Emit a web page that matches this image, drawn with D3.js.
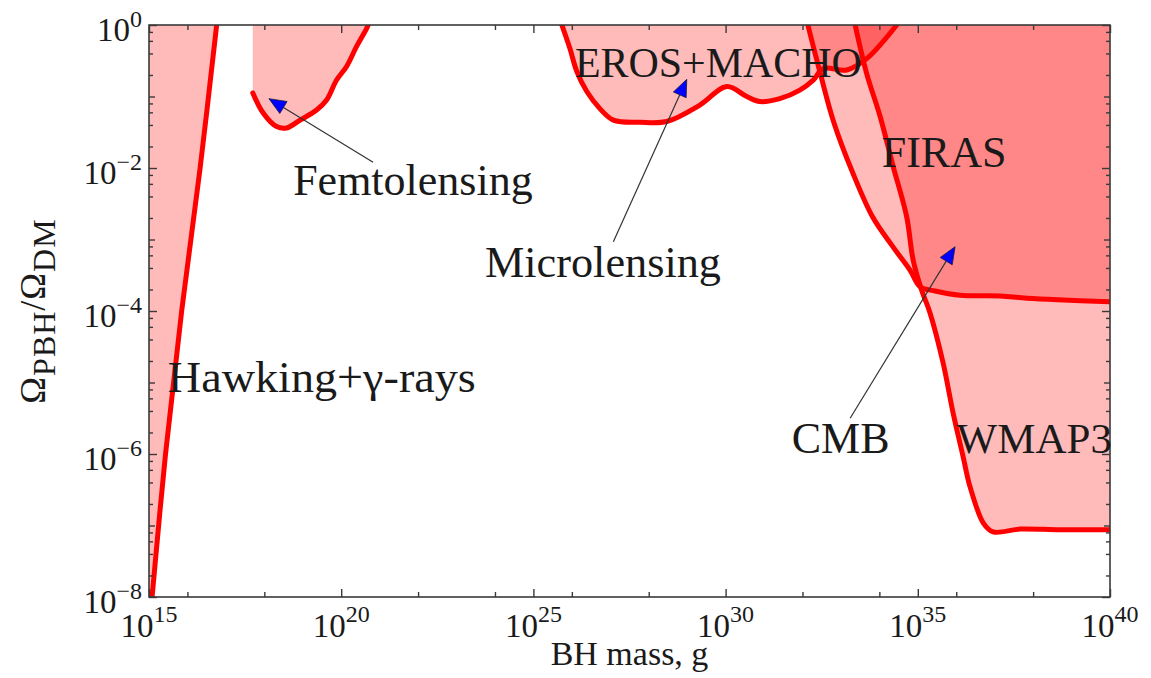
<!DOCTYPE html>
<html>
<head>
<meta charset="utf-8">
<script src="https://cdn.jsdelivr.net/npm/d3@7"></script>
<style>
  body { margin: 0; background: #fff; }
  svg { display: block; }
</style>
</head>
<body>
<svg id="chart" width="1151" height="678"></svg>
<script>
// Constraint boundaries, as [log10(M / g), log10(Ω_PBH / Ω_DM)]
const hawkingGammaRays = [[15.08,-8],[15.43,-6],[15.85,-4],[16.33,-2],[16.76,0]];
const femtolensing = [[17.70,-0.95],[17.97,-1.23],[18.32,-1.42],[18.58,-1.44],[18.93,-1.33],
  [19.36,-1.19],[19.62,-1.05],[19.88,-0.77],[20.14,-0.58],[20.40,-0.30],[20.66,-0.05],[20.70,0]];
const erosMacho = [[25.74,0],[25.95,-0.33],[26.13,-0.65],[26.39,-0.93],[26.73,-1.17],[27.08,-1.33],
  [27.77,-1.36],[28.47,-1.35],[29.33,-1.12],[30.03,-0.86],[30.55,-1.00],[30.89,-1.07],[31.41,-1.03],
  [31.93,-0.91],[32.28,-0.77],[32.54,-0.61],[33.15,-0.63],[33.67,-0.47],[34.10,-0.23],[34.45,0]];
const firas = [[32.14,0],[32.46,-0.67],[32.82,-1.37],[33.31,-2.07],[33.83,-2.69],[34.35,-3.10],
  [34.80,-3.43],[35.06,-3.66],[35.45,-3.72],[36.10,-3.78],[37.14,-3.79],[37.84,-3.82],[40,-3.87]];
const wmap3 = [[33.37,0],[33.67,-0.68],[34.02,-1.28],[34.36,-1.98],[34.71,-2.68],[34.88,-3.29],
  [35.10,-3.71],[35.32,-4.03],[35.66,-4.73],[35.92,-5.43],[36.18,-6.04],[36.36,-6.46],[36.71,-6.97],
  [36.96,-7.09],[37.66,-7.05],[38.70,-7.06],[40,-7.06]];

// Axis ticks (exponents of 10)
const xMajorExp = [15, 20, 25, 30, 35, 40];
const xMinorExp = [16, 18, 22, 24, 26, 28, 32, 34, 36, 38];
const yMajorExp = [0, -2, -4, -6, -8];
const yDecadeExp = [-1, -3, -5, -7];
const yMultipliers = [2, 4, 6, 8];

// Region names and the arrows pointing into them
const regionLabels = [
  { text: "Hawking+γ-rays", at: [15.49, -5.13], size: 44, width: 308 },
  { text: "Femtolensing",   at: [18.75, -2.38], size: 44 },
  { text: "Microlensing",   at: [23.74, -3.52], size: 44, width: 236 },
  { text: "EROS+MACHO",     at: [26.08, -0.73], size: 42.5, width: 287 },
  { text: "FIRAS",          at: [34.06, -1.99], size: 44 },
  { text: "CMB",            at: [31.72, -5.99], size: 44 },
  { text: "WMAP3",          at: [36.01, -5.99], size: 43 }
];
const arrows = [
  { from: [20.83, -1.92], to: [18.12, -1.03] },
  { from: [27.08, -3.03], to: [28.99, -0.76] },
  { from: [33.24, -5.50], to: [35.97, -3.10] }
];

const FONT = "'Liberation Serif', 'DejaVu Serif', serif";
const INK = "#1a1a1a";

const svg = d3.select("#chart");
const plotLeft = 149, plotRight = 1110, plotTop = 25, plotBottom = 597;

const x = d3.scaleLog().domain([1e15, 1e40]).range([plotLeft, plotRight]);
const y = d3.scaleLog().domain([1e-8, 1]).range([plotBottom, plotTop]);
const px = e => x(Math.pow(10, e));
const py = e => y(Math.pow(10, e));

svg.append("defs").append("clipPath").attr("id", "plotClip")
  .append("rect").attr("x", plotLeft).attr("y", plotTop)
  .attr("width", plotRight - plotLeft).attr("height", plotBottom - plotTop);

const plot = svg.append("g").attr("clip-path", "url(#plotClip)");

const line = d3.line().x(d => px(d[0])).y(d => py(d[1])).curve(d3.curveCatmullRom.alpha(0.5));

// Excluded regions: boundary curve closed along the frame
const regions = [
  { pts: hawkingGammaRays, close: [[15, 0], [15, -8]] },
  { pts: femtolensing,     close: [[17.70, 0]] },
  { pts: erosMacho,        close: [] },
  { pts: firas,            close: [[40, 0]] },
  { pts: wmap3,            close: [[40, 0]] }
];

plot.selectAll("path.fill").data(regions).join("path")
  .attr("class", "fill")
  .attr("d", r => line(r.pts) + r.close.map(c => `L${px(c[0])},${py(c[1])}`).join("") + "Z")
  .attr("fill", "#ff0000")
  .attr("fill-opacity", 0.27)
  .attr("stroke", "none");

plot.selectAll("path.edge").data(regions).join("path")
  .attr("class", "edge")
  .attr("d", r => line(r.pts))
  .attr("fill", "none")
  .attr("stroke", "#ff0000")
  .attr("stroke-width", 5)
  .attr("stroke-linejoin", "round")
  .attr("stroke-linecap", "round");

// Frame and ticks
const axisColor = "#3a3a3a";
function styleAxis(g) {
  g.select(".domain").remove();
  g.selectAll(".tick line").attr("stroke", axisColor).attr("stroke-width", 1.4);
  g.selectAll(".tick text").remove();
}
const xMajor = xMajorExp.map(e => Math.pow(10, e));
const xMinor = xMinorExp.map(e => Math.pow(10, e));
const yMajor = yMajorExp.map(e => Math.pow(10, e));
const yDecade = yDecadeExp.map(e => Math.pow(10, e));
const yMinor = [];
[0, -1, -2, -3, -4, -5, -6, -7].forEach(e => {
  yMultipliers.forEach(m => { const v = m * Math.pow(10, e - 1); if (v <= 1) yMinor.push(v); });
});

[[d3.axisBottom, plotBottom], [d3.axisTop, plotTop]].forEach(([ax, pos]) => {
  svg.append("g").attr("transform", `translate(0,${pos})`)
    .call(ax(x).tickValues(xMajor).tickSize(-8)).call(styleAxis);
  svg.append("g").attr("transform", `translate(0,${pos})`)
    .call(ax(x).tickValues(xMinor).tickSize(-5)).call(styleAxis);
});
[[d3.axisLeft, plotLeft], [d3.axisRight, plotRight]].forEach(([ax, pos]) => {
  svg.append("g").attr("transform", `translate(${pos},0)`)
    .call(ax(y).tickValues(yMajor).tickSize(-8)).call(styleAxis);
  svg.append("g").attr("transform", `translate(${pos},0)`)
    .call(ax(y).tickValues(yDecade).tickSize(-6)).call(styleAxis);
  svg.append("g").attr("transform", `translate(${pos},0)`)
    .call(ax(y).tickValues(yMinor).tickSize(-4)).call(styleAxis);
});

svg.append("rect")
  .attr("x", plotLeft).attr("y", plotTop)
  .attr("width", plotRight - plotLeft).attr("height", plotBottom - plotTop)
  .attr("fill", "none").attr("stroke", axisColor).attr("stroke-width", 1.6);

// Tick labels as 10^n
const fmtExp = e => (e < 0 ? "\u2212" + Math.abs(e) : String(e));
xMajorExp.forEach(e => {
  const t = svg.append("text")
    .attr("x", px(e)).attr("y", 637)
    .attr("text-anchor", "middle")
    .attr("font-family", FONT).attr("fill", INK)
    .attr("font-size", 33);
  t.append("tspan").text("10");
  t.append("tspan").attr("dy", -15).attr("font-size", 24).text(fmtExp(e));
});
yMajorExp.forEach(e => {
  const t = svg.append("text")
    .attr("x", 142).attr("y", py(e) + 16)
    .attr("text-anchor", "end")
    .attr("font-family", FONT).attr("fill", INK)
    .attr("font-size", 33);
  t.append("tspan").text("10");
  t.append("tspan").attr("dy", -14).attr("font-size", 24).text(fmtExp(e));
});

// Axis titles
svg.append("text")
  .attr("x", (plotLeft + plotRight) / 2).attr("y", 665)
  .attr("text-anchor", "middle")
  .attr("font-family", FONT).attr("fill", INK)
  .attr("font-size", 34)
  .text("BH mass, g");

const yt = svg.append("text")
  .attr("transform", `translate(45,${(plotTop + plotBottom) / 2}) rotate(-90)`)
  .attr("text-anchor", "middle")
  .attr("font-family", FONT).attr("fill", INK)
  .attr("font-size", 36)
  .attr("letter-spacing", 1);
yt.append("tspan").text("Ω");
yt.append("tspan").attr("dy", 10).attr("font-size", 32).text("PBH");
yt.append("tspan").attr("dy", -10).text("/Ω");
yt.append("tspan").attr("dy", 10).attr("font-size", 32).text("DM");

// Annotation arrows with blue heads
arrows.forEach(a => {
  const x0 = px(a.from[0]), y0 = py(a.from[1]);
  const x1 = px(a.to[0]), y1 = py(a.to[1]);
  const dx = x1 - x0, dy = y1 - y0, len = Math.hypot(dx, dy);
  const ux = dx / len, uy = dy / len;
  const headLen = 17, halfW = 7;
  const bx = x1 - ux * headLen, by = y1 - uy * headLen;
  svg.append("line")
    .attr("x1", x0).attr("y1", y0).attr("x2", bx).attr("y2", by)
    .attr("stroke", "#333").attr("stroke-width", 1.2);
  svg.append("polygon")
    .attr("points", [[x1, y1], [bx - uy * halfW, by + ux * halfW], [bx + uy * halfW, by - ux * halfW]]
      .map(p => p.join(",")).join(" "))
    .attr("fill", "#0000ff")
    .attr("stroke", "#1a1a3a").attr("stroke-width", 0.8);
});

// Region names
const names = svg.selectAll("text.region").data(regionLabels).join("text")
  .attr("class", "region")
  .attr("x", d => px(d.at[0])).attr("y", d => py(d.at[1]))
  .attr("font-family", FONT).attr("fill", INK)
  .attr("font-size", d => d.size)
  .text(d => d.text);
names.filter(d => d.width)
  .attr("textLength", d => d.width)
  .attr("lengthAdjust", "spacingAndGlyphs");
</script>
</body>
</html>
